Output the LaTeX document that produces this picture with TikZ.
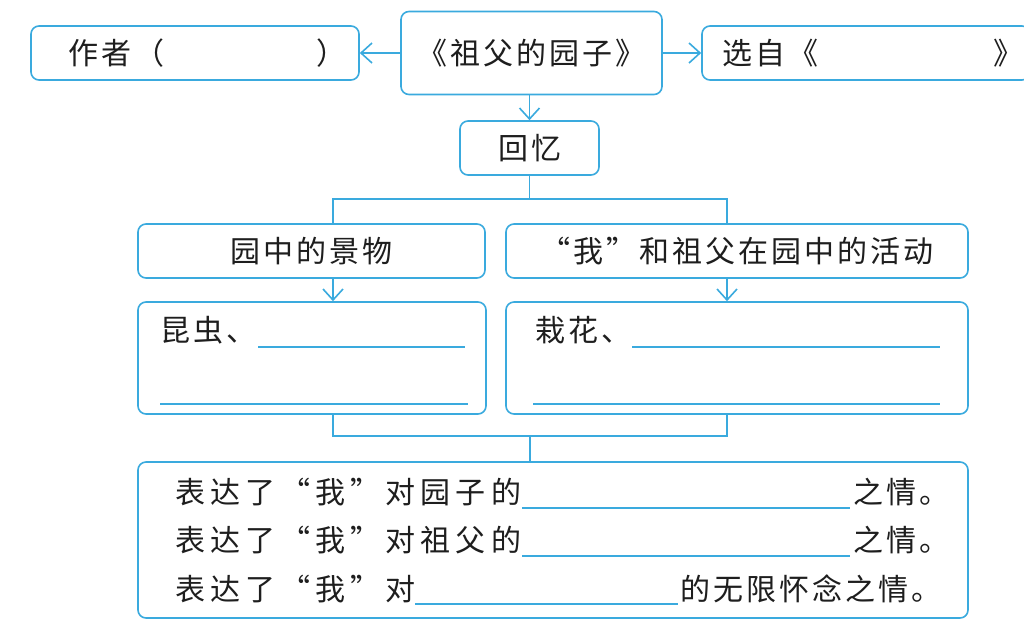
\documentclass[tikz,border=0pt]{standalone}
\usepackage{fontspec}
\newfontfamily\cjk[LetterSpace=10]{Noto Sans CJK SC}
\newfontfamily\cjkw[LetterSpace=17]{Noto Sans CJK SC}
\usetikzlibrary{arrows.meta}
\definecolor{lb}{RGB}{58,170,222}
\definecolor{ink}{RGB}{30,30,30}
\begin{document}
\begin{tikzpicture}[x=1pt,y=-1pt,
  box/.style={draw=lb,line width=1.6pt,rounded corners=8pt,inner sep=0pt},
  txt/.style={font=\cjk\fontsize{30}{32}\selectfont,text=ink,inner sep=0pt},
  wtxt/.style={font=\cjkw\fontsize{30}{32}\selectfont,text=ink,inner sep=0pt},
  conn/.style={draw=lb,line width=1.6pt},
  arr/.style={conn,-{Straight Barb[length=11pt,width=20pt]}},
  blankline/.style={draw=lb,line width=1.4pt}]
\useasboundingbox (0,0) rectangle (1024,622);
\clip (0,0) rectangle (1024,622);
\fill[white] (0,0) rectangle (1024,622);

% top row
\node[box,minimum width=328pt,minimum height=54pt] (author) at (195,53) {};
\node[txt,anchor=base west] (authort) at (68,64) {作者（};
\node[txt,anchor=base west] (authorp) at (316,64) {）};
\node[box,txt,minimum width=261pt,minimum height=83pt] (title) at (531.5,53) {《祖父的园子》};
\node[box,minimum width=328pt,minimum height=54pt] (source) at (866,53) {};
\node[txt,anchor=base west] (sourcet) at (722,64) {选自《};
\node[txt,anchor=base west] (sourcep) at (993,64) {》};

\node[box,txt,minimum width=139pt,minimum height=54pt] (huiyi) at (529.5,148) {回忆};

% heads
\node[box,txt,minimum width=347pt,minimum height=54pt] (lhead) at (311.5,251) {园中的景物};
\node[box,txt,minimum width=462pt,minimum height=54pt] (rhead) at (737,251) {“我”和祖父在园中的活动};

% contents
\node[box,minimum width=348pt,minimum height=112pt] (lcont) at (312,358) {};
\node[txt,anchor=base west] (lcontt) at (160,341) {昆虫、};
\draw[blankline] (258,347) -- (465,347);
\draw[blankline] (160,404) -- (468,404);
\node[box,minimum width=462pt,minimum height=112pt] (rcont) at (737,358) {};
\node[txt,anchor=base west] (rcontt) at (535,341) {栽花、};
\draw[blankline] (632,347) -- (940,347);
\draw[blankline] (533,404) -- (940,404);

% bottom
\node[box,minimum width=830pt,minimum height=156pt] (bottom) at (553,540) {};
\node[wtxt,anchor=base west] (r1a) at (175,503) {表达了“我”对园子的};
\draw[blankline] (522,508) -- (850,508);
\node[txt,anchor=base west] (r1b) at (853,503) {之情。};
\node[wtxt,anchor=base west] (r2a) at (175,551) {表达了“我”对祖父的};
\draw[blankline] (522,556) -- (850,556);
\node[txt,anchor=base west] (r2b) at (853,551) {之情。};
\node[wtxt,anchor=base west] (r3a) at (175,600) {表达了“我”对};
\draw[blankline] (415,604) -- (678,604);
\node[txt,anchor=base west] (r3b) at (680,600) {的无限怀念之情。};

% connectors
\coordinate (jl) at (333,199);
\coordinate (jr) at (727,199);
\coordinate (kl) at (333,436);
\coordinate (kr) at (727,436);
\coordinate (km) at (530,436);
\draw[arr] (title.west |- author.east) -- (author.east);
\draw[arr] (title.east |- source.west) -- (source.west);
\draw[arr] (title.south -| huiyi.north) -- (huiyi.north);
\draw[conn] (huiyi.south) -- (huiyi.south |- jl);
\draw[conn] (lhead.north -| jl) |- (jr) -- (rhead.north -| jr);
\draw[arr] (lhead.south -| jl) -- (lcont.north -| jl);
\draw[arr] (rhead.south -| jr) -- (rcont.north -| jr);
\draw[conn] (lcont.south -| kl) |- (kr) -- (rcont.south -| kr);
\draw[conn] (km) -- (bottom.north -| km);
\end{tikzpicture}
\end{document}
